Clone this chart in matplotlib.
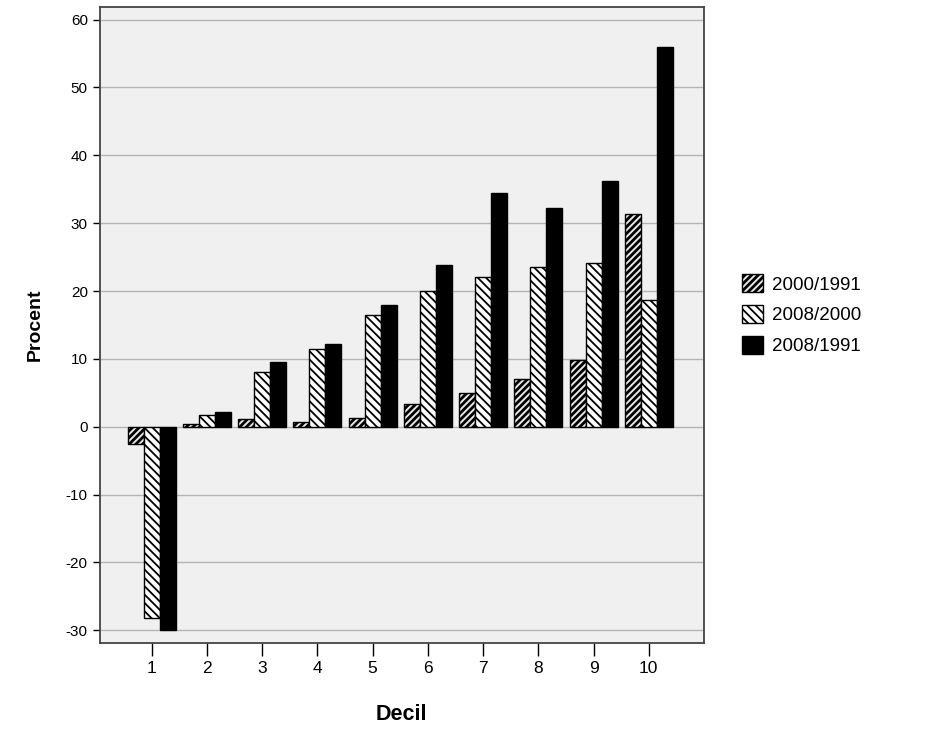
import numpy as np
import matplotlib
matplotlib.use('Agg')
import matplotlib.pyplot as plt

plt.rcParams['font.family'] = ['Liberation Sans', 'DejaVu Sans']
plt.rcParams['axes.unicode_minus'] = False

deciles = [1, 2, 3, 4, 5, 6, 7, 8, 9, 10]
series_labels = ['2000/1991', '2008/2000', '2008/1991']
v_2000_1991 = [-2.6, 0.4, 1.2, 0.7, 1.3, 3.4, 5.0, 7.1, 9.8, 31.4]
v_2008_2000 = [-28.2, 1.7, 8.1, 11.5, 16.4, 20.0, 22.1, 23.6, 24.1, 18.7]
v_2008_1991 = [-30.0, 2.1, 9.5, 12.2, 17.9, 23.8, 34.4, 32.2, 36.2, 56.0]
y_ticks = [-30, -20, -10, 0, 10, 20, 30, 40, 50, 60]

fig = plt.figure(figsize=(9.4, 7.53), dpi=100)
ax = fig.add_axes([0.106, 0.146, 0.643, 0.845])
ax.set_facecolor('#f0f0f0')

x = np.array(deciles, dtype=float)
w = 0.29
styles = [
    (dict(facecolor='#e8e8e8', hatch='/////'), 2.0),
    (dict(facecolor='white', hatch='\\\\\\\\'), 1.3),
    (dict(facecolor='black', hatch=None), 1.0),
]
for i, (vals, lab, (st, hlw)) in enumerate(zip([v_2000_1991, v_2008_2000, v_2008_1991], series_labels, styles)):
    with plt.rc_context({'hatch.linewidth': hlw}):
        ax.bar(x + (i - 1) * w, vals, width=w, label=lab, edgecolor='black',
               linewidth=1.0, zorder=3, **st)

ax.set_xlim(0.06, 11.0)
ax.set_ylim(-31.9, 61.9)
ax.set_yticks(y_ticks)
ax.set_xticks(deciles)
ax.yaxis.grid(True, color='#b4b4b4', linewidth=1.0, zorder=0)
ax.set_axisbelow(True)
for s in ax.spines.values():
    s.set_color('#444444')
    s.set_linewidth(1.3)
ax.tick_params(axis='y', direction='out', length=5, width=1, labelsize=11, colors='black')
ax.tick_params(axis='x', direction='out', length=9, width=1, labelsize=12.5, pad=4)

ax.set_xlabel('Decil', fontsize=15.5, fontweight='bold', labelpad=20)
ax.set_ylabel('Procent', fontsize=14, fontweight='bold', labelpad=16)

leg = ax.legend(loc='center left', bbox_to_anchor=(1.035, 0.516), frameon=False,
                fontsize=13.5, handlelength=1.1, handleheight=1.1, handletextpad=0.5,
                labelspacing=0.6)
handles = getattr(leg, 'legend_handles', None) or leg.legendHandles
for h, (st, hlw) in zip(handles, styles):
    if hasattr(h, 'set_hatch_linewidth'):
        h.set_hatch_linewidth(hlw)
    else:
        h._hatch_linewidth = hlw

fig.savefig('out.png', dpi=100)
